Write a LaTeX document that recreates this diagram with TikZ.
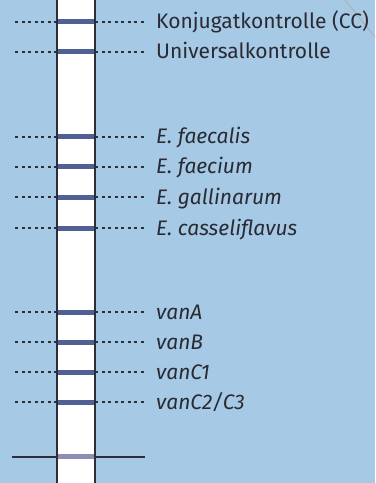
\documentclass[tikz,border=0pt]{standalone}
\usepackage{fontspec}
\setmainfont{Fira Sans}
\definecolor{bg}{HTML}{A6C9E5}
\definecolor{band}{HTML}{4F6192}
\definecolor{lband}{HTML}{8F8FB5}
\definecolor{edge}{HTML}{2E2E36}
\definecolor{txt}{HTML}{2A2A33}
\begin{document}
\begin{tikzpicture}[x=1bp,y=-1bp,
  lbl/.style={anchor=base west,inner sep=0pt,text=txt,font=\fontsize{21bp}{24bp}\selectfont},
  dots/.style={edge,line width=1.2bp,dash pattern=on 3bp off 3.5bp},
  bandline/.style={band,line width=5bp}]
\fill[bg] (0,0) rectangle (375,483);
\useasboundingbox (0,0) rectangle (375,483);
\draw[gray!60,line width=1bp] (345,0) -- (375,37);
\fill[white] (57,0) rectangle (95,483);
\foreach \y/\t/\n in {22/Konjugatkontrolle (CC)/a,52/Universalkontrolle/b,137/\textit{E. faecalis}/c,167/\textit{E. faecium}/d,197/\textit{E. gallinarum}/e,228/\textit{E. casseliflavus}/f,312/\textit{vanA}/g,342/\textit{vanB}/h,372/\textit{vanC1}/i,402/\textit{vanC2/C3}/j}{
  \coordinate (l\n) at (15,\y);
  \coordinate (sl\n) at (57,\y);
  \coordinate (sr\n) at (95,\y);
  \node[lbl] (t\n) at (156,\y+7) {\t};
  \coordinate (r\n) at (146,\y);
  \draw[dots] (l\n) -- (sl\n);
  \draw[dots] (sr\n) -- (r\n);
  \draw[bandline] (sl\n) -- (sr\n);
}
\coordinate (bl) at (12,456.5);
\coordinate (bsl) at (57,456.5);
\coordinate (bsr) at (95,456.5);
\coordinate (br) at (145,456.5);
\draw[edge,line width=2bp] (bl) -- (bsl);
\draw[edge,line width=2bp] (bsr) -- (br);
\draw[lband,line width=5bp] (bsl) -- (bsr);
\draw[edge,line width=2.2bp] (57,0) -- (57,483);
\draw[edge,line width=2.2bp] (95,0) -- (95,483);
\end{tikzpicture}
\end{document}
